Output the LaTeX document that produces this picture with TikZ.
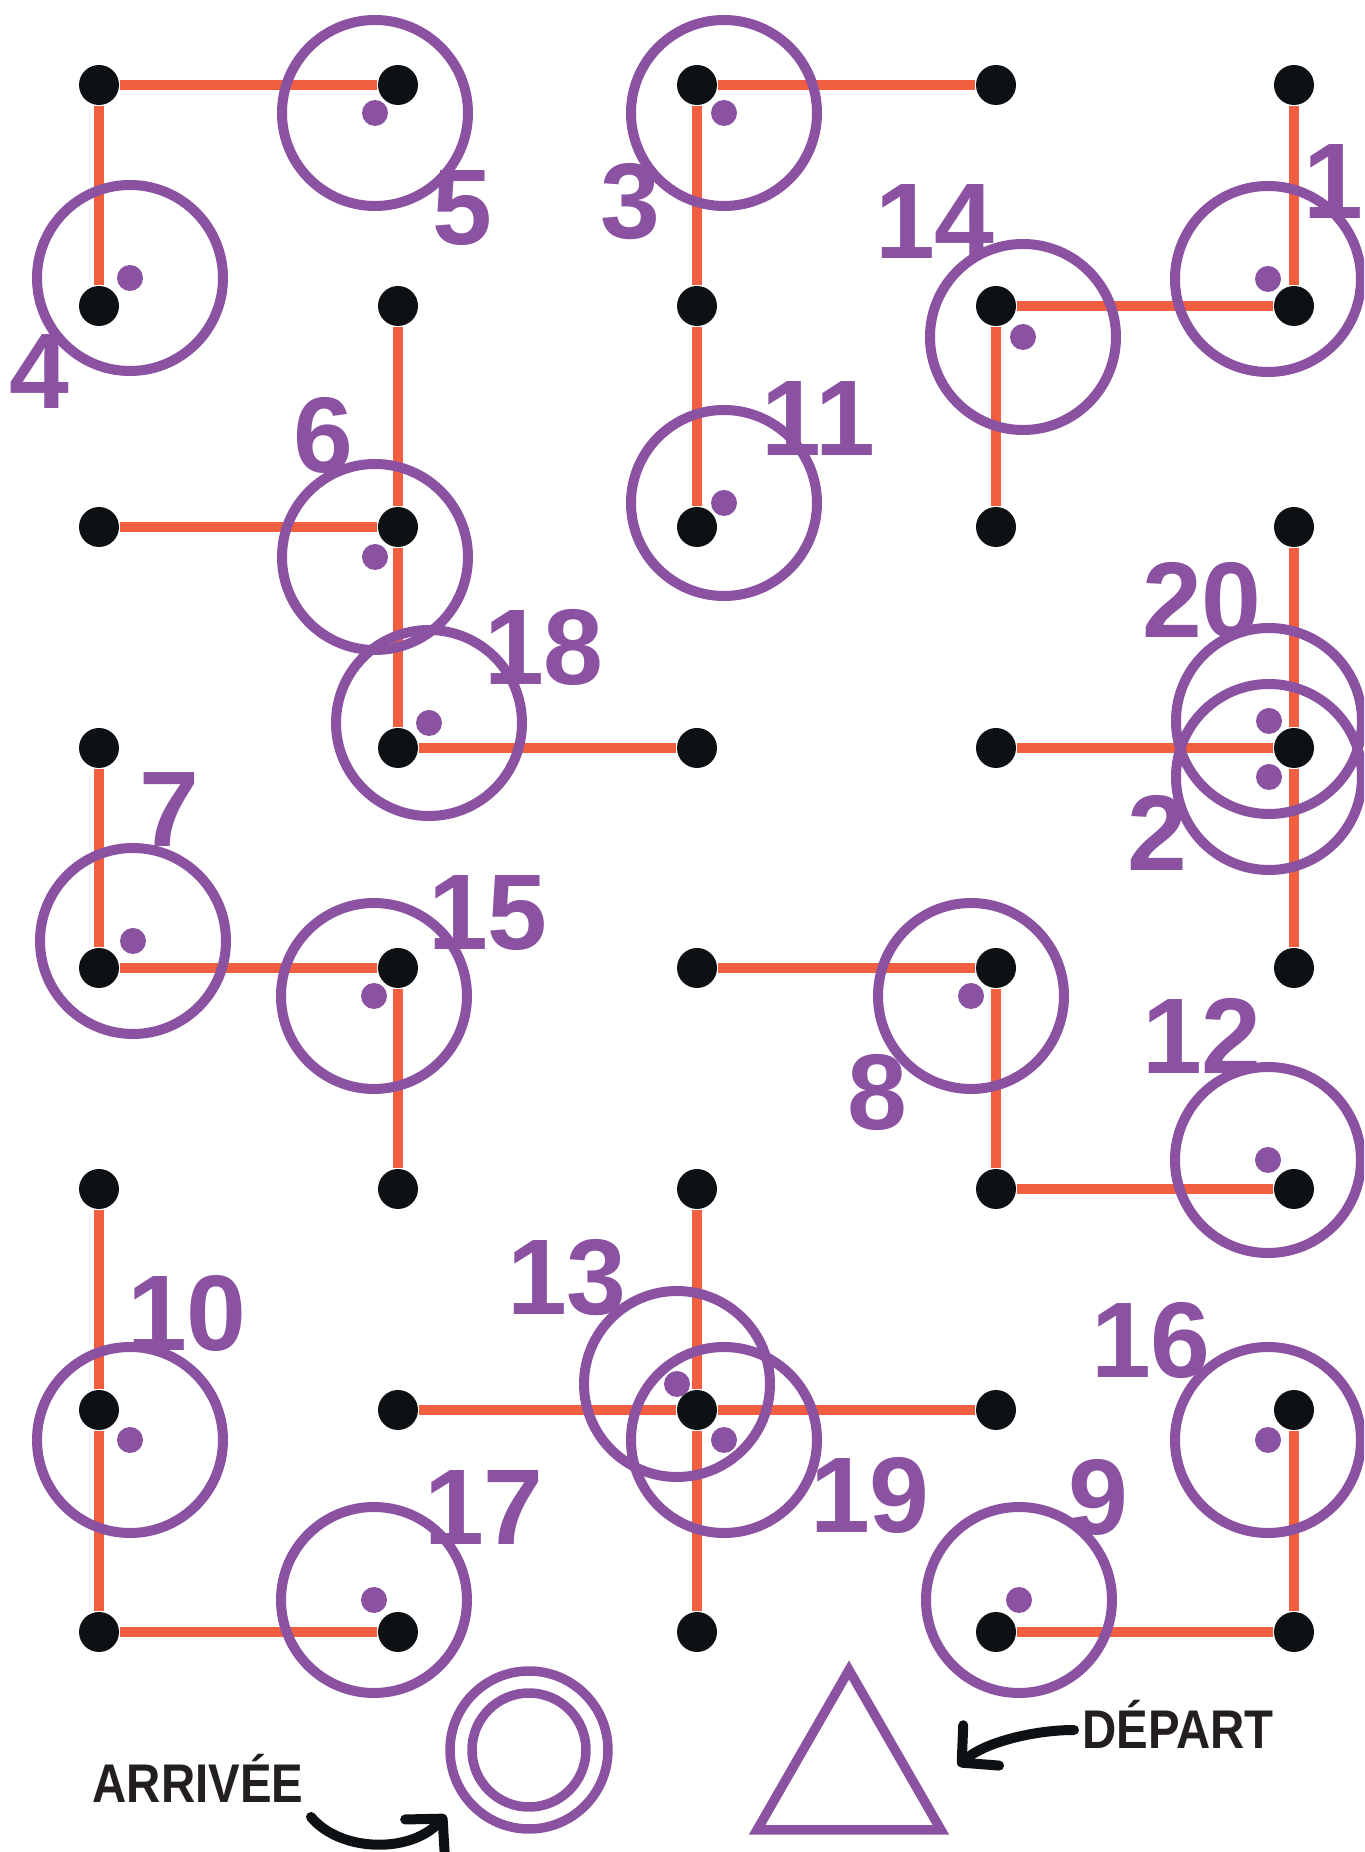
\documentclass[tikz,border=0pt]{standalone}
\usepackage{fontspec}
\setmainfont{Liberation Sans}
\usetikzlibrary{arrows.meta}

\definecolor{ringpurple}{HTML}{8B52A1}
\definecolor{pathorange}{HTML}{F15F40}
\definecolor{dotblack}{HTML}{0E1113}
\definecolor{inkdark}{HTML}{231F20}

\begin{document}
\begin{tikzpicture}[
    line cap=round,
    line join=round,
    griddot/.style={
        circle,
        fill=dotblack,
        inner sep=0pt,
        minimum size=4mm
    },
    trail/.style={
        draw=pathorange,
        line width=1.05mm,
        line cap=butt
    },
    ring/.style={
        circle,
        draw=ringpurple,
        line width=1mm,
        inner sep=0pt,
        minimum size=18.6mm
    },
    numlabel/.style={
        text=ringpurple,
        inner sep=0pt,
        font=\fontsize{30.6}{36}\selectfont\bfseries
    },
    tag/.style={
        text=inkdark,
        inner sep=0pt,
        anchor=base,
        font=\fontsize{15.5}{18}\selectfont\bfseries
    },
    sign/.style={
        draw=ringpurple,
        line width=0.95mm
    },
    pointer/.style={
        draw=dotblack,
        line width=1mm,
        -{Straight Barb[length=2.6mm,width=5.4mm,round]}
    }
]

\useasboundingbox (0,0) rectangle (13.64,18.52);
\clip (0,0) rectangle (13.64,18.52);

% -------------------------------------------------
% Grid of points: columns a..e, rows 1..8
% -------------------------------------------------

\node[griddot] (a1) at (0.99,17.67) {};
\node[griddot] (b1) at (3.98,17.67) {};
\node[griddot] (c1) at (6.97,17.67) {};
\node[griddot] (d1) at (9.96,17.67) {};
\node[griddot] (e1) at (12.94,17.67) {};

\node[griddot] (a2) at (0.99,15.46) {};
\node[griddot] (b2) at (3.98,15.46) {};
\node[griddot] (c2) at (6.97,15.46) {};
\node[griddot] (d2) at (9.96,15.46) {};
\node[griddot] (e2) at (12.94,15.46) {};

\node[griddot] (a3) at (0.99,13.25) {};
\node[griddot] (b3) at (3.98,13.25) {};
\node[griddot] (c3) at (6.97,13.25) {};
\node[griddot] (d3) at (9.96,13.25) {};
\node[griddot] (e3) at (12.94,13.25) {};

\node[griddot] (a4) at (0.99,11.04) {};
\node[griddot] (b4) at (3.98,11.04) {};
\node[griddot] (c4) at (6.97,11.04) {};
\node[griddot] (d4) at (9.96,11.04) {};
\node[griddot] (e4) at (12.94,11.04) {};

\node[griddot] (a5) at (0.99,8.84) {};
\node[griddot] (b5) at (3.98,8.84) {};
\node[griddot] (c5) at (6.97,8.84) {};
\node[griddot] (d5) at (9.96,8.84) {};
\node[griddot] (e5) at (12.94,8.84) {};

\node[griddot] (a6) at (0.99,6.63) {};
\node[griddot] (b6) at (3.98,6.63) {};
\node[griddot] (c6) at (6.97,6.63) {};
\node[griddot] (d6) at (9.96,6.63) {};
\node[griddot] (e6) at (12.94,6.63) {};

\node[griddot] (a7) at (0.99,4.42) {};
\node[griddot] (b7) at (3.98,4.42) {};
\node[griddot] (c7) at (6.97,4.42) {};
\node[griddot] (d7) at (9.96,4.42) {};
\node[griddot] (e7) at (12.94,4.42) {};

\node[griddot] (a8) at (0.99,2.20) {};
\node[griddot] (b8) at (3.98,2.20) {};
\node[griddot] (c8) at (6.97,2.20) {};
\node[griddot] (d8) at (9.96,2.20) {};
\node[griddot] (e8) at (12.94,2.20) {};

% -------------------------------------------------
% Orange paths between points
% -------------------------------------------------

\draw[trail] (a1) -- (b1);
\draw[trail] (c1) -- (d1);
\draw[trail] (a1) -- (a2);
\draw[trail] (c1) -- (c2) -- (c3);
\draw[trail] (e1) -- (e2);
\draw[trail] (d2) -- (e2);
\draw[trail] (d2) -- (d3);
\draw[trail] (b2) -- (b3) -- (b4);
\draw[trail] (a3) -- (b3);
\draw[trail] (b4) -- (c4);
\draw[trail] (d4) -- (e4);
\draw[trail] (e3) -- (e4) -- (e5);
\draw[trail] (a4) -- (a5);
\draw[trail] (a5) -- (b5);
\draw[trail] (b5) -- (b6);
\draw[trail] (c5) -- (d5);
\draw[trail] (d5) -- (d6);
\draw[trail] (d6) -- (e6);
\draw[trail] (a6) -- (a7) -- (a8);
\draw[trail] (a8) -- (b8);
\draw[trail] (c6) -- (c7) -- (c8);
\draw[trail] (b7) -- (c7) -- (d7);
\draw[trail] (d8) -- (e8);
\draw[trail] (e7) -- (e8);

% -------------------------------------------------
% Purple rings with their centre dots
% -------------------------------------------------

\node[ring] (r1)  at (12.68,15.73) {};
\node[ring] (r2)  at (12.69,10.75) {};
\node[ring] (r3)  at (7.24,17.39) {};
\node[ring] (r4)  at (1.30,15.74) {};
\node[ring] (r5)  at (3.75,17.39) {};
\node[ring] (r6)  at (3.75,12.95) {};
\node[ring] (r7)  at (1.33,9.11) {};
\node[ring] (r8)  at (9.71,8.56) {};
\node[ring] (r9)  at (10.19,2.52) {};
\node[ring] (r10) at (1.30,4.12) {};
\node[ring] (r11) at (7.24,13.49) {};
\node[ring] (r12) at (12.68,6.92) {};
\node[ring] (r13) at (6.77,4.68) {};
\node[ring] (r14) at (10.23,15.15) {};
\node[ring] (r15) at (3.74,8.56) {};
\node[ring] (r16) at (12.68,4.12) {};
\node[ring] (r17) at (3.74,2.52) {};
\node[ring] (r18) at (4.29,11.29) {};
\node[ring] (r19) at (7.24,4.12) {};
\node[ring] (r20) at (12.69,11.31) {};

\foreach \r in {r1,r2,r3,r4,r5,r6,r7,r8,r9,r10,
                r11,r12,r13,r14,r15,r16,r17,r18,r19,r20}
    \fill[ringpurple] (\r) circle (0.13);

% -------------------------------------------------
% Numbers
% -------------------------------------------------

\node[numlabel] (n1)  at (13.33,16.70) {1};
\node[numlabel] (n2)  at (11.57,10.19) {2};
\node[numlabel] (n3)  at (6.30,16.50) {3};
\node[numlabel] (n4)  at (0.39,14.80) {4};
\node[numlabel] (n5)  at (4.62,16.44) {5};
\node[numlabel] (n6)  at (3.23,14.17) {6};
\node[numlabel] (n7)  at (1.69,10.42) {7};
\node[numlabel] (n8)  at (8.77,7.60) {8};
\node[numlabel] (n9)  at (10.98,3.55) {9};
\node[numlabel] (n10) at (1.87,5.39) {10};
\node[numlabel] (n11) at (8.18,14.33) {11};
\node[numlabel] (n12) at (12.02,8.16) {12};
\node[numlabel] (n13) at (5.67,5.74) {13};
\node[numlabel] (n14) at (9.35,16.30) {14};
\node[numlabel] (n15) at (4.88,9.39) {15};
\node[numlabel] (n16) at (11.51,5.12) {16};
\node[numlabel] (n17) at (4.84,3.44) {17};
\node[numlabel] (n18) at (5.44,12.05) {18};
\node[numlabel] (n19) at (8.70,3.57) {19};
\node[numlabel] (n20) at (12.02,12.52) {20};

% -------------------------------------------------
% Finish (double ring) and start (triangle)
% -------------------------------------------------

\coordinate (goal) at (5.29,1.02);
\draw[sign] (goal) circle (0.79);
\draw[sign] (goal) circle (0.57);

\draw[sign, line join=miter]
    (8.49,1.82) -- (7.57,0.22) -- (9.41,0.22) -- cycle;

% -------------------------------------------------
% Captions and arrows
% -------------------------------------------------

\node[tag] (arrivee) at (1.98,0.49) {\scalebox{0.87}[1]{ARRIVÉE}};
\node[tag] (depart)  at (11.78,1.04) {\scalebox{0.87}[1]{DÉPART}};

\coordinate (arrtail) at (3.11,0.35);
\coordinate (arrtip)  at (4.46,0.37);
\draw[pointer] (arrtail)
    .. controls (3.40,0.00) and (4.10,-0.02)
        .. (arrtip);

\coordinate (deptail) at (10.74,1.22);
\coordinate (deptip)  at (9.58,0.86);
\draw[pointer] (deptail)
    .. controls (10.35,1.22) and (9.85,1.10)
        .. (deptip);

\end{tikzpicture}
\end{document}
